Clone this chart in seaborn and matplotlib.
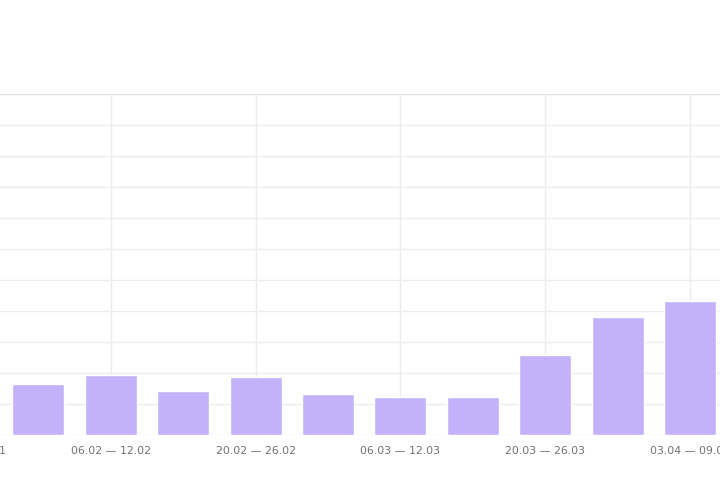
import matplotlib
matplotlib.use("Agg")
import matplotlib.pyplot as plt
import seaborn as sns
import pandas as pd

# weekly buckets, first one is mostly cut off on the left
weeks = [
    "23.01 — 29.01", "30.01 — 05.02", "06.02 — 12.02", "13.02 — 19.02",
    "20.02 — 26.02", "27.02 — 05.03", "06.03 — 12.03", "13.03 — 19.03",
    "20.03 — 26.03", "27.03 — 02.04", "03.04 — 09.04",
]
counts = [15, 16.5, 19.4, 14.2, 18.7, 13.2, 12.3, 12.3, 25.8, 38.1, 43.2]
y_ticks = list(range(0, 120, 10))

df = pd.DataFrame({"week": weeks, "count": counts})

sns.set_theme(style="white")
plt.rcParams["font.family"] = ["DejaVu Sans"]

fig = plt.figure(figsize=(7.2, 4.8), dpi=100)
# axes runs past both edges of the figure, like the cropped original
ax = fig.add_axes([-0.09757, 0.09375, 1.10625, 0.7104])

sns.barplot(data=df, x="week", y="count", color="#c3b2fa", saturation=1,
            width=0.72, ax=ax, zorder=2)

ax.set_xlim(-0.5, len(weeks) - 0.5)
ax.set_ylim(0, 110)
ax.set_yticks(y_ticks)
ax.set_yticklabels([])

# only every other week gets a label and a vertical grid line
ax.set_xticks(range(0, len(weeks), 2))
ax.set_xticklabels(weeks[::2], fontsize=7.8, color="#707070")
ax.tick_params(axis="both", length=0)
ax.tick_params(axis="x", pad=8)

ax.grid(True, color="#ececec", linewidth=1, zorder=0)
ax.axhline(110, color="#e2e2e2", linewidth=1.5, zorder=1)
for side in ["left", "right", "bottom", "top"]:
    ax.spines[side].set_visible(False)

ax.set_xlabel("")
ax.set_ylabel("")

fig.savefig("out.png", dpi=100)
